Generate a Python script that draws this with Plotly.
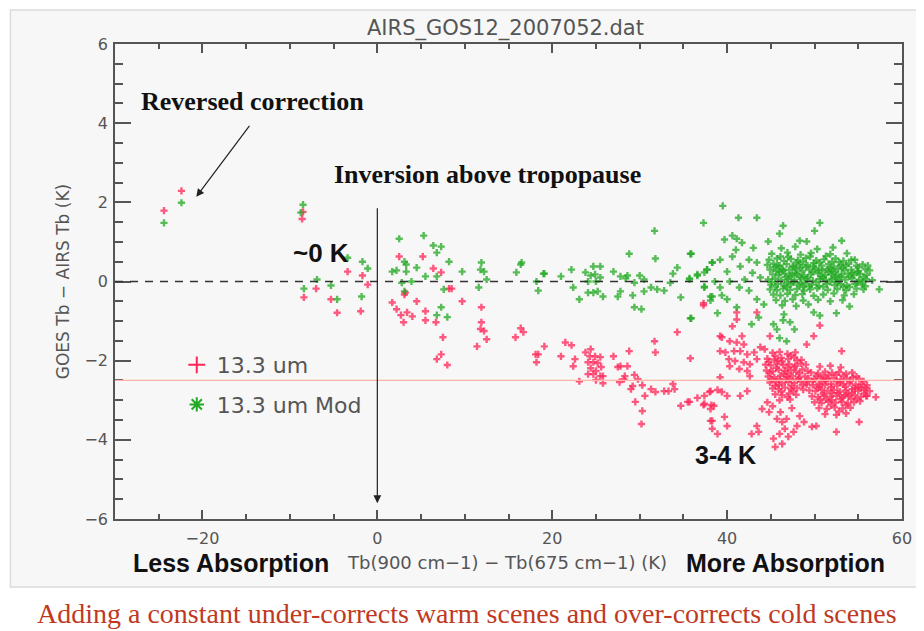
import plotly.graph_objects as go

# ---------------- data ----------------
red_left = [(-24.4, 1.79), (-22.4, 2.29), (-8.6, 1.58), (-8.5, 1.76), (-8.4, -0.40), (-7.0, -0.18),
            (-5.3, -0.45), (-4.6, -0.79), (-3.4, 0.25), (-1.7, 0.15), (-1.1, -0.08), (-1.9, -0.75)]
red_mid = [(2.5, 0.63), (5.2, 0.63), (6.4, 0.33), (7.3, 0.23), (3.2, -0.28), (3.1, -0.33), (1.7, -0.53),
           (2.2, -0.70), (2.7, -0.85), (3.4, -0.78), (4.0, -0.88), (3.0, -1.03), (4.5, -0.50), (5.5, -0.75),
           (5.5, -0.98), (6.7, -1.03), (8.2, -0.18), (8.5, -0.18), (9.7, -0.50), (11.9, -0.65), (11.9, -1.03),
           (11.8, -1.20), (12.2, -1.25), (12.5, -1.46), (11.4, -1.64), (7.5, -1.41), (7.3, -1.84), (6.8, -1.96),
           (8.0, -2.11), (15.8, -1.41), (16.4, -1.18), (16.7, -1.28), (18.1, -1.84), (18.4, -1.84), (18.2, -2.04),
           (19.1, -1.64), (21.5, -1.54), (22.2, -1.61), (21.0, -1.89), (22.6, -1.96), (22.4, -2.14), (23.1, -2.52),
           (23.8, -1.79), (24.4, -1.71), (24.3, -1.89), (24.9, -1.89), (25.5, -1.91), (24.1, -2.04), (24.7, -2.04),
           (25.2, -2.06), (25.6, -2.16), (24.4, -2.19), (25.0, -2.26), (24.1, -2.34), (24.7, -2.34), (25.5, -2.39),
           (25.8, -2.39), (25.0, -2.49), (25.8, -2.57), (27.0, -1.89), (27.5, -2.16), (27.8, -2.14), (28.8, -1.76),
           (28.6, -2.14), (28.3, -2.39), (27.7, -2.54), (28.2, -2.47), (29.4, -2.36), (29.8, -2.47), (29.2, -2.64),
           (29.0, -2.72), (30.3, -2.62), (31.7, -1.51), (31.8, -1.79), (31.3, -2.72), (31.8, -2.79), (32.8, -2.77),
           (33.3, -2.77), (33.8, -2.59), (34.0, -2.72), (30.6, -2.89), (29.5, -3.04), (30.3, -3.27), (30.2, -3.60),
           (34.3, -1.28), (35.8, -1.94), (34.7, -3.14), (35.7, -3.04), (36.6, -2.94), (37.3, -0.55), (37.4, -3.09),
           (38.0, -2.79), (38.2, -3.12), (38.1, -3.52), (38.3, -3.72), (35.5, -3.04)]
red_upper = [(37.3, -0.60), (41.1, -0.78), (40.6, -1.13), (43.4, -0.78), (39.2, -1.38), (41.7, -1.38), (44.9, -1.38),
             (50.6, -1.11), (41.1, -0.96), (39.4, -1.41), (40.3, -1.51), (41.1, -1.54), (41.9, -1.59), (39.2, -1.76),
             (39.8, -1.79), (40.8, -1.76), (41.5, -1.76), (42.3, -1.84), (43.1, -1.79), (43.8, -1.66), (44.3, -1.71),
             (40.2, -1.96), (40.9, -2.01), (41.9, -2.04), (42.6, -2.09), (41.4, -2.21), (42.3, -2.26), (40.3, -2.14),
             (43.4, -1.96), (39.2, -2.42), (42.6, -2.39), (49.9, -1.38), (49.1, -1.59), (53.1, -1.76)]
red_arc = [(37.4, -2.89), (38.1, -2.77), (38.9, -2.74), (39.4, -2.79), (40.0, -2.89), (37.3, -3.12), (38.1, -3.22),
           (38.5, -3.14), (39.7, -3.42), (38.3, -3.52), (40.0, -3.65), (38.9, -3.85), (41.5, -2.89), (42.3, -2.77)]
red_tail = [(44.0, -3.22), (44.8, -3.30), (45.7, -3.47), (46.3, -3.55), (46.8, -3.47), (46.6, -3.72), (46.0, -3.85),
            (45.5, -4.18), (46.3, -4.10), (47.0, -3.92), (47.6, -3.80), (43.4, -3.65), (43.6, -3.80), (42.8, -3.85),
            (45.3, -3.97), (48.0, -3.65), (48.8, -3.55), (48.3, -3.40), (49.7, -3.67), (50.2, -3.65), (52.5, -3.80),
            (55.1, -3.55), (55.9, -2.89), (57.0, -2.92), (44.6, -3.05), (45.2, -3.15), (47.4, -3.20), (46.1, -3.30)]
red_core1 = [(45.2, -1.80), (46.0, -1.78), (46.9, -1.83), (47.8, -1.79),
             (44.6, -1.95), (45.4, -1.97), (46.2, -1.93), (47.0, -1.96), (47.7, -1.92), (48.5, -1.98),
             (44.4, -2.10), (45.0, -2.12), (45.7, -2.08), (46.4, -2.11), (47.1, -2.09), (47.8, -2.13), (48.4, -2.07), (49.0, -2.10),
             (44.5, -2.25), (45.2, -2.27), (45.9, -2.23), (46.6, -2.26), (47.3, -2.24), (47.9, -2.28), (48.6, -2.22), (49.2, -2.26),
             (44.7, -2.40), (45.4, -2.42), (46.1, -2.38), (46.8, -2.41), (47.5, -2.39), (48.2, -2.43), (48.9, -2.40),
             (44.9, -2.55), (45.6, -2.53), (46.3, -2.57), (47.0, -2.54), (47.7, -2.56), (48.4, -2.52), (49.1, -2.55),
             (45.2, -2.70), (45.9, -2.72), (46.6, -2.68), (47.3, -2.71), (48.0, -2.69), (48.7, -2.73),
             (45.5, -2.85), (46.3, -2.87), (47.1, -2.83), (47.9, -2.86), (46.0, -3.00), (47.2, -2.98),
             (44.8, -2.03), (45.6, -2.18), (46.3, -2.02), (47.0, -2.33), (47.7, -2.17), (48.3, -2.32), (45.1, -2.47),
             (45.9, -2.62), (46.7, -2.48), (47.4, -2.63), (48.1, -2.47), (46.2, -2.78), (46.9, -2.92), (45.5, -1.88),
             (47.3, -1.87), (44.9, -2.30), (45.5, -2.63), (46.5, -2.33), (47.2, -2.46), (48.6, -2.62), (45.8, -2.00),
             (46.9, -2.18), (48.0, -2.00), (46.0, -2.47), (47.6, -2.77)]
red_core2 = [(50.6, -2.15), (51.8, -2.13), (53.0, -2.17),
             (49.6, -2.30), (50.4, -2.32), (51.2, -2.28), (52.0, -2.31), (52.8, -2.29), (53.6, -2.33), (54.3, -2.30),
             (49.3, -2.45), (50.0, -2.47), (50.7, -2.43), (51.5, -2.46), (52.2, -2.44), (53.0, -2.48), (53.7, -2.45), (54.4, -2.42), (55.1, -2.46),
             (49.1, -2.60), (49.8, -2.62), (50.5, -2.58), (51.2, -2.61), (51.9, -2.59), (52.6, -2.63), (53.3, -2.60), (54.0, -2.57), (54.7, -2.61), (55.4, -2.59), (56.0, -2.62),
             (49.4, -2.75), (50.1, -2.77), (50.8, -2.73), (51.5, -2.76), (52.2, -2.74), (52.9, -2.78), (53.6, -2.75), (54.3, -2.72), (55.0, -2.76), (55.7, -2.74), (56.3, -2.77),
             (49.7, -2.90), (50.4, -2.92), (51.1, -2.88), (51.8, -2.91), (52.5, -2.89), (53.2, -2.93), (53.9, -2.90), (54.6, -2.87), (55.3, -2.91), (56.0, -2.89),
             (50.0, -3.05), (50.8, -3.07), (51.6, -3.03), (52.4, -3.06), (53.1, -3.04), (53.8, -3.08), (54.5, -3.05), (55.2, -3.02),
             (50.5, -3.20), (51.4, -3.22), (52.3, -3.18), (53.2, -3.21), (54.1, -3.19), (51.2, -3.35), (52.5, -3.37), (53.6, -3.33),
             (50.2, -2.38), (51.6, -2.37), (53.3, -2.38), (50.9, -2.53), (52.5, -2.52), (54.1, -2.51), (55.6, -2.52),
             (50.3, -2.68), (51.9, -2.67), (53.5, -2.66), (55.0, -2.67), (51.0, -2.83), (52.7, -2.82), (54.3, -2.81),
             (55.7, -2.83), (51.3, -2.98), (53.0, -2.97), (54.8, -2.97), (51.9, -3.13), (53.6, -3.12),
             (49.8, -2.52), (50.6, -2.66), (51.3, -2.51), (52.0, -2.82), (52.9, -2.55), (53.8, -2.83), (54.6, -2.70),
             (55.3, -2.68), (50.6, -2.98), (52.0, -3.00), (53.4, -2.87), (54.2, -2.96), (55.9, -2.69), (52.8, -3.28),
             (51.0, -2.40), (52.5, -2.36), (54.8, -2.40)]

green_left = [(-24.4, 1.48), (-22.4, 1.99), (-8.5, 1.94), (-8.75, 1.74), (-8.4, -0.18), (-6.9, 0.05), (-5.3, -0.10),
              (-4.6, -0.45), (-3.4, 0.60), (-1.7, 0.50), (-1.1, 0.33), (-1.8, -0.38)]
green_mid = [(2.5, 1.08), (5.3, 1.16), (6.4, 0.91), (7.3, 0.88), (6.8, 0.73), (3.1, 0.50), (3.3, 0.43), (1.7, 0.25),
             (2.2, 0.28), (3.3, 0.25), (4.5, 0.35), (2.8, -0.03), (3.9, 0.00), (5.5, 0.13), (6.8, 0.13), (8.2, 0.50),
             (9.7, 0.25), (3.1, -0.25), (7.6, -0.20), (7.3, -0.65), (6.8, -0.85), (8.0, -0.90), (11.6, -0.15),
             (11.9, 0.48), (11.8, 0.30), (12.2, 0.25), (12.5, 0.05), (16.5, 0.48), (15.9, 0.23), (18.2, 0.00),
             (18.4, -0.23), (19.1, 0.20), (21.0, 0.13), (22.2, 0.30), (23.8, 0.23), (24.7, 0.38), (25.5, 0.38),
             (24.4, 0.15), (24.9, 0.18), (24.1, 0.00), (25.0, 0.00), (25.5, 0.10), (22.4, -0.15), (24.1, -0.28),
             (24.7, -0.28), (25.2, -0.25), (25.8, -0.38), (23.1, -0.45), (27.0, 0.25), (27.8, 0.13), (28.6, 0.15),
             (28.4, 0.08), (28.8, 0.70), (30.0, 0.15), (30.5, 0.05), (29.4, -0.03), (27.8, -0.25), (27.5, -0.38),
             (29.2, -0.35), (30.5, -0.25), (31.8, 0.58), (31.3, -0.15), (32.0, -0.20), (32.8, -0.23), (33.5, -0.03),
             (33.8, 0.20), (34.3, 0.35), (35.7, 0.08), (34.7, -0.40), (29.4, -0.65), (30.2, -0.70), (35.9, 0.70),
             (36.6, 0.15), (35.9, -0.93), (37.4, 0.23), (38.3, 0.48), (37.7, 0.30), (37.4, -0.13), (38.1, -0.38),
             (38.1, -0.48), (31.7, 1.28), (19.0, 0.20), (16.4, 0.43)]
green_upper = [(39.5, 1.91), (41.3, 1.61), (43.4, 1.61), (37.3, 1.48), (46.4, 1.41), (50.6, 1.48), (46.0, 1.21),
               (40.6, 1.16), (41.1, 1.08), (41.7, 0.98), (39.7, 1.06), (44.7, 1.01), (49.1, 1.01), (53.1, 1.03),
               (48.3, 1.03), (50.0, 1.28), (35.8, 0.70), (38.3, 0.48), (39.2, 0.55), (40.6, 0.63), (42.5, 0.55),
               (41.5, 0.38), (43.4, 0.48), (37.7, 0.30), (40.0, 0.25), (36.6, 0.18), (35.7, 0.05), (38.6, 0.00),
               (40.3, 0.00), (42.0, 0.05), (37.4, -0.15), (39.2, -0.15), (41.4, -0.15), (42.5, -0.23), (38.3, -0.38),
               (39.4, -0.35), (40.0, -0.45), (43.4, -0.45), (38.9, -0.80), (41.1, -0.65), (44.2, -0.58), (42.8, -1.08),
               (43.6, -0.91), (35.8, -0.93), (45.3, -1.08), (46.5, -0.83), (46.4, -0.98), (47.2, -1.03), (45.7, -1.21),
               (47.7, -1.21), (46.8, -1.51), (46.0, -1.43), (49.9, -0.78), (50.6, -0.86), (52.5, -0.80), (54.0, -0.63),
               (57.4, -0.20), (42.9, 0.22), (43.8, 0.10), (41.0, 0.80), (43.0, 0.85)]
green_core = [(46.2, 0.84), (47.8, 0.88), (50.3, 0.82), (52.1, 0.86),
              (45.1, 0.70), (46.9, 0.73), (48.4, 0.68), (49.6, 0.72), (51.8, 0.69), (53.7, 0.71),
              (44.8, 0.55), (45.7, 0.58), (46.5, 0.52), (47.3, 0.57), (48.1, 0.54), (49.0, 0.59), (50.2, 0.53), (51.1, 0.56), (52.4, 0.58), (53.3, 0.52), (54.6, 0.55),
              (44.6, 0.42), (45.3, 0.45), (46.0, 0.40), (46.8, 0.44), (47.5, 0.39), (48.3, 0.43), (49.2, 0.41), (49.9, 0.46), (50.8, 0.40), (51.6, 0.44), (52.2, 0.38), (53.0, 0.42), (53.9, 0.45), (54.8, 0.40), (55.5, 0.43),
              (44.9, 0.30), (45.6, 0.27), (46.3, 0.32), (47.1, 0.29), (47.9, 0.31), (48.6, 0.26), (49.4, 0.30), (50.1, 0.33), (50.9, 0.28), (51.4, 0.31), (52.0, 0.27), (52.7, 0.32), (53.4, 0.29), (54.2, 0.30), (55.0, 0.26), (55.8, 0.31), (56.3, 0.28),
              (45.2, 0.18), (45.9, 0.16), (46.6, 0.20), (47.4, 0.17), (48.0, 0.19), (48.8, 0.15), (49.6, 0.18), (50.4, 0.21), (51.2, 0.16), (51.9, 0.19), (52.5, 0.15), (53.1, 0.18), (53.8, 0.20), (54.5, 0.16), (55.2, 0.19), (56.0, 0.17),
              (44.7, 0.05), (45.5, 0.07), (46.2, 0.03), (47.0, 0.06), (47.7, 0.04), (48.5, 0.08), (49.1, 0.05), (49.8, 0.02), (50.6, 0.06), (51.3, 0.04), (52.0, 0.07), (52.8, 0.03), (53.5, 0.05), (54.3, 0.08), (55.1, 0.04), (55.9, 0.06), (56.6, 0.03),
              (45.0, -0.08), (45.8, -0.06), (46.5, -0.10), (47.3, -0.07), (48.2, -0.09), (48.9, -0.05), (49.7, -0.08), (50.5, -0.11), (51.4, -0.06), (52.3, -0.09), (53.0, -0.07), (53.7, -0.10), (54.6, -0.06), (55.4, -0.08),
              (44.9, -0.20), (45.7, -0.22), (46.4, -0.18), (47.2, -0.21), (48.0, -0.19), (48.8, -0.23), (49.5, -0.20), (50.3, -0.17), (51.5, -0.21), (52.6, -0.19), (53.6, -0.22), (54.8, -0.18), (55.6, -0.20),
              (45.3, -0.33), (46.1, -0.35), (46.9, -0.31), (47.8, -0.34), (48.6, -0.32), (49.9, -0.36), (51.0, -0.33), (52.2, -0.30), (53.4, -0.35), (54.5, -0.32),
              (45.6, -0.47), (46.6, -0.49), (47.5, -0.45), (48.7, -0.48), (50.4, -0.46), (51.8, -0.50), (53.2, -0.47),
              (46.3, -0.60), (47.9, -0.62), (49.3, -0.58),
              (45.4, 0.36), (46.0, 0.24), (46.7, 0.11), (47.6, 0.36), (48.3, 0.12), (49.0, 0.37), (49.8, 0.24), (50.7, 0.13),
              (51.6, 0.24), (52.3, 0.10), (53.2, 0.35), (54.0, 0.12), (54.9, 0.23), (55.6, 0.11), (45.1, -0.01), (46.9, -0.02),
              (48.7, -0.14), (50.2, -0.01), (52.6, -0.02), (54.0, -0.14), (55.8, -0.12), (47.9, 0.48), (50.6, 0.48),
              (52.8, 0.49), (46.1, 0.63), (49.5, 0.63), (51.3, 0.64),
              (45.8, 0.40), (46.4, 0.28), (47.2, 0.14), (47.8, 0.22), (48.4, 0.35), (49.2, 0.10), (49.9, 0.38), (50.5, 0.28),
              (51.0, 0.10), (51.8, 0.34), (52.4, 0.24), (53.0, 0.12), (53.6, 0.40), (54.3, 0.22), (55.0, 0.36), (55.5, 0.00),
              (56.1, 0.40), (45.5, -0.13), (46.8, -0.14), (47.6, -0.02), (48.4, -0.03), (49.4, -0.12), (51.0, -0.13),
              (51.8, -0.01), (53.3, -0.14), (54.9, -0.02), (47.0, 0.62), (48.7, 0.50), (52.0, 0.50), (54.2, 0.55)]

red_points = red_left + red_mid + red_upper + red_arc + red_tail + red_core1 + red_core2
green_points = green_left + green_mid + green_upper + green_core
red_x = [p[0] for p in red_points]
red_y = [p[1] for p in red_points]
green_x = [p[0] for p in green_points]
green_y = [p[1] for p in green_points]

x_range = [-30, 60]
y_range = [-6, 6]
series_names = ["13.3 um", "13.3 um Mod"]
RED = "#ff2457"
GREEN = "#22a822"
GRAY = "#555555"

# ---------------- layout helpers (screen pixel -> paper) ----------------
OFF = 8  # page body margin
W, H = 924 - OFF, 631 - OFF
L, R, T, B = 115 - OFF, 905 - OFF, 44 - OFF, 519 - OFF
def px(x):
    return (x - OFF - L) / (R - L)
def py(y):
    return (B - (y - OFF)) / (B - T)

fig = go.Figure()
fig.add_trace(go.Scatter(x=red_x, y=red_y, mode="markers", showlegend=False, hoverinfo="skip",
                         marker=dict(symbol="cross", size=6, color=RED, opacity=0.75, line=dict(width=0))))
fig.add_trace(go.Scatter(x=green_x, y=green_y, mode="markers", showlegend=False, hoverinfo="skip",
                         marker=dict(symbol="cross", size=6, color=GREEN, opacity=0.75, line=dict(width=0))))
fig.add_trace(go.Scatter(x=[None], y=[None], mode="markers", name=series_names[0], legendgroup="a",
                         marker=dict(symbol="cross-thin-open", size=16, color=RED, line=dict(width=2, color=RED))))
fig.add_trace(go.Scatter(x=[None], y=[None], mode="markers", name=series_names[1], legendgroup="b",
                         marker=dict(symbol="asterisk-open", size=16, color=GREEN, line=dict(width=2, color=GREEN))))

axis_common = dict(showgrid=False, zeroline=False, showline=True, linecolor=GRAY, linewidth=1.5,
                   ticks="inside", mirror="ticks", tickcolor=GRAY, tickwidth=1.5,
                   tickfont=dict(family="DejaVu Sans", size=16, color=GRAY))
fig.update_xaxes(range=x_range, dtick=20, tick0=0, ticklen=9, ticklabelstandoff=4,
                 minor=dict(dtick=5, ticklen=5, ticks="inside", tickcolor=GRAY, tickwidth=1.5), **axis_common)
fig.update_yaxes(range=y_range, dtick=2, tick0=0, ticklen=16, ticklabelstandoff=2,
                 minor=dict(dtick=0.5, ticklen=8, ticks="inside", tickcolor=GRAY, tickwidth=1.5), **axis_common)

shapes = [
    dict(type="rect", xref="paper", yref="paper", x0=px(10), x1=px(940), y0=py(587), y1=py(10),
         fillcolor="#f7f7f7", line=dict(color="#dcdcdc", width=1.5), layer="below"),
    dict(type="line", xref="x", yref="y", x0=x_range[0], x1=x_range[1], y0=0, y1=0,
         line=dict(color="#333333", width=1.5, dash="8px,7px")),
    dict(type="line", xref="x", yref="y", x0=x_range[0], x1=x_range[1], y0=-2.5, y1=-2.5,
         line=dict(color="#ffb3a6", width=1.2)),
]

def txt(x, y, s, size, family, color="#111111", bold=False, xanchor="center", angle=0):
    if bold:
        s = "<b>" + s + "</b>"
    return dict(xref="paper", yref="paper", x=px(x), y=py(y), text=s, showarrow=False,
                xanchor=xanchor, yanchor="middle", textangle=angle,
                font=dict(family=family, size=size, color=color))

annotations = [
    txt(507, 28, "AIRS_GOS12_2007052.dat", 21, "DejaVu Sans", GRAY),
    txt(508, 562, "Tb(900 cm\u22121) \u2212 Tb(675 cm\u22121) (K)", 18, "DejaVu Sans", GRAY),
    txt(63, 282, "GOES Tb \u2212 AIRS Tb (K)", 17, "DejaVu Sans", GRAY, angle=-90),
    txt(231, 563, "Less Absorption", 25, "Liberation Sans", "#111111", bold=True),
    txt(788, 563, "More Absorption", 25, "Liberation Sans", "#111111", bold=True),
    txt(322, 253, "~0 K", 26, "Liberation Sans", "#111111", bold=True),
    txt(728, 455, "3-4 K", 25, "Liberation Sans", "#111111", bold=True),
    txt(253, 101, "Reversed correction", 26, "Liberation Serif", "#111111", bold=True),
    txt(489, 175, "Inversion above tropopause", 26, "Liberation Serif", "#111111", bold=True),
    txt(468, 613, "Adding a constant under-corrects warm scenes and over-corrects cold scenes", 28,
        "Liberation Serif", "#c0391f"),
    dict(xref="x", yref="y", axref="x", ayref="y", x=-20.7, y=2.14, ax=-14.5, ay=3.97, text="",
         showarrow=True, arrowhead=2, arrowsize=1.3, arrowwidth=1.2, arrowcolor="#222222"),
    dict(xref="x", yref="y", axref="x", ayref="y", x=0, y=-5.6, ax=0, ay=1.89, text="",
         showarrow=True, arrowhead=2, arrowsize=1.3, arrowwidth=1.2, arrowcolor="#222222"),
]

fig.update_layout(
    width=W, height=H,
    margin=dict(l=L, r=W - R, t=T, b=H - B, pad=0),
    paper_bgcolor="white", plot_bgcolor="#f7f7f7",
    shapes=shapes, annotations=annotations,
    showlegend=True,
    legend=dict(x=px(177), y=py(344), xanchor="left", yanchor="top", bgcolor="rgba(0,0,0,0)",
                font=dict(family="DejaVu Sans", size=22, color=GRAY), tracegroupgap=8,
                itemsizing="constant"),
)

fig.write_html("out.html")
